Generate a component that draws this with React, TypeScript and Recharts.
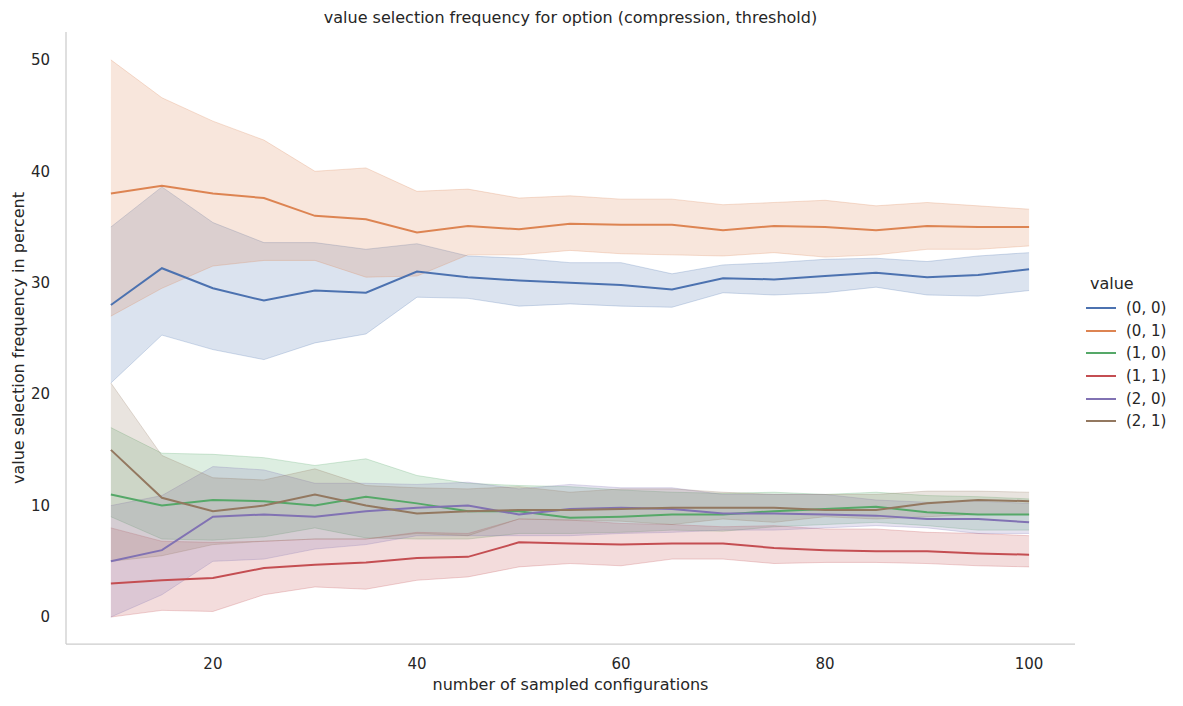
import { ComposedChart, Area, Line, XAxis, YAxis } from 'recharts';

const xs = [10, 15, 20, 25, 30, 35, 40, 45, 50, 55, 60, 65, 70, 75, 80, 85, 90, 95, 100];

const names = ['(0, 0)', '(0, 1)', '(1, 0)', '(1, 1)', '(2, 0)', '(2, 1)'];
const colors = ['#4c72b0', '#dd8452', '#55a868', '#c44e52', '#8172b3', '#937860'];

const mean00 = [28, 31.3, 29.5, 28.4, 29.3, 29.1, 31, 30.5, 30.2, 30, 29.8, 29.4, 30.4, 30.3, 30.6, 30.9, 30.5, 30.7, 31.2];
const lo00 = [21, 25.3, 24, 23.1, 24.6, 25.4, 28.7, 28.6, 27.9, 28.1, 27.9, 27.8, 29.1, 28.9, 29.1, 29.6, 28.9, 28.8, 29.3];
const hi00 = [35, 38.6, 35.4, 33.6, 33.6, 33, 33.5, 32.4, 32.2, 31.8, 31.8, 30.8, 31.6, 31.8, 32.1, 32.2, 31.9, 32.4, 32.7];

const mean01 = [38, 38.7, 38, 37.6, 36, 35.7, 34.5, 35.1, 34.8, 35.3, 35.2, 35.2, 34.7, 35.1, 35, 34.7, 35.1, 35, 35];
const lo01 = [27, 29.5, 31.5, 32, 32, 30.5, 30.6, 32.5, 32.5, 32.9, 32.6, 32.5, 32.4, 32.7, 32.3, 32.5, 33, 33, 33.3];
const hi01 = [50, 46.6, 44.5, 42.8, 40, 40.3, 38.2, 38.4, 37.6, 37.8, 37.5, 37.5, 37, 37.2, 37.4, 36.9, 37.2, 36.9, 36.6];

const mean10 = [11, 10, 10.5, 10.4, 10, 10.8, 10.2, 9.5, 9.5, 8.9, 9, 9.2, 9.2, 9.5, 9.7, 9.9, 9.4, 9.2, 9.2];
const lo10 = [9, 7, 6.9, 7.2, 8, 7.1, 7, 7, 7.5, 7.5, 7.6, 7.8, 7.7, 8.1, 8.3, 8.5, 8.2, 7.8, 7.8];
const hi10 = [17, 14.7, 14.6, 14.3, 13.6, 14.2, 12.7, 12, 11.8, 11.7, 11.4, 11.2, 11.1, 11.2, 11, 11.2, 10.9, 10.8, 10.6];

const mean11 = [3, 3.3, 3.5, 4.4, 4.7, 4.9, 5.3, 5.4, 6.7, 6.6, 6.5, 6.6, 6.6, 6.2, 6, 5.9, 5.9, 5.7, 5.6];
const lo11 = [0, 0.6, 0.5, 2, 2.7, 2.5, 3.3, 3.6, 4.5, 4.8, 4.6, 5.2, 5.2, 4.8, 4.9, 4.9, 4.8, 4.6, 4.5];
const hi11 = [8, 6.8, 6.7, 6.8, 7, 7, 7.6, 7.5, 8.8, 8.7, 8.4, 8.3, 8.1, 8.2, 7.9, 7.9, 7.6, 7.5, 7.3];

const mean20 = [5, 6, 9, 9.2, 9, 9.5, 9.8, 10, 9.2, 9.7, 9.8, 9.7, 9.3, 9.3, 9.2, 9.1, 8.8, 8.8, 8.5];
const lo20 = [0, 2, 5, 5.2, 6.1, 6.5, 7.3, 7.3, 7.3, 7.3, 7.5, 7.6, 7.8, 7.8, 8, 8.2, 8, 7.5, 7.5];
const hi20 = [10, 10.9, 13.5, 13.2, 12, 12, 11.9, 12.1, 11.5, 11.9, 11.6, 11.6, 11, 11, 11, 10.5, 10.3, 10.4, 10.2];

const mean21 = [15, 10.7, 9.5, 10, 11, 10, 9.3, 9.5, 9.6, 9.6, 9.7, 9.8, 9.8, 9.8, 9.6, 9.6, 10.2, 10.5, 10.4];
const lo21 = [5, 5.5, 6.5, 6.8, 7, 7, 7.5, 7.3, 8.8, 8.7, 8.6, 8.3, 8.8, 8.5, 9, 8.8, 9, 9.2, 9.2];
const hi21 = [21, 14.5, 12.5, 12.3, 13.3, 11.8, 11.6, 11.5, 11.7, 11.2, 11.5, 11.5, 11.2, 11, 11, 11, 11.3, 11.3, 11.2];

const xTicks = [20, 40, 60, 80, 100];
const yTicks = [0, 10, 20, 30, 40, 50];

const means = [mean00, mean01, mean10, mean11, mean20, mean21];
const los = [lo00, lo01, lo10, lo11, lo20, lo21];
const his = [hi00, hi01, hi10, hi11, hi20, hi21];

const data = xs.map((x, i) => {
  const row: Record<string, number | number[]> = { x };
  means.forEach((m, s) => {
    row[`m${s}`] = m[i];
    row[`r${s}`] = [los[s][i], his[s][i]];
  });
  return row;
});

const font = '"DejaVu Sans", sans-serif';
const tick = { fill: '#262626', fontSize: 15, fontFamily: font };

export default function App() {
  return (
    <div style={{ position: 'absolute', left: 0, top: 0, width: 1183, height: 706, background: '#fff', fontFamily: font, color: '#262626' }}>
      <div style={{ position: 'absolute', top: 8, left: 66, width: 1009, textAlign: 'center', fontSize: 16 }}>
        value selection frequency for option (compression, threshold)
      </div>
      <div style={{ position: 'absolute', left: 18, top: 338, transform: 'translate(-50%, -50%) rotate(-90deg)', fontSize: 16, whiteSpace: 'nowrap' }}>
        value selection frequency in percent
      </div>
      <div style={{ position: 'absolute', top: 675, left: 66, width: 1009, textAlign: 'center', fontSize: 16 }}>
        number of sampled configurations
      </div>
      <ComposedChart width={1183} height={706} data={data} margin={{ top: 32, right: 108, bottom: 0, left: 6 }}>
        <XAxis
          dataKey="x"
          type="number"
          domain={[5.6, 104.5]}
          ticks={xTicks}
          tick={tick}
          tickLine={false}
          tickMargin={8}
          height={62}
          axisLine={{ stroke: '#cccccc', strokeWidth: 1.25 }}
        />
        <YAxis
          type="number"
          domain={[-2.42, 52.5]}
          ticks={yTicks}
          tick={tick}
          tickLine={false}
          tickMargin={10}
          width={60}
          axisLine={{ stroke: '#cccccc', strokeWidth: 1.25 }}
        />
        {names.map((n, s) => (
          <Area
            key={`r${s}`}
            dataKey={`r${s}`}
            type="linear"
            fill={colors[s]}
            fillOpacity={0.2}
            stroke={colors[s]}
            strokeOpacity={0.25}
            isAnimationActive={false}
          />
        ))}
        {names.map((n, s) => (
          <Line
            key={`m${s}`}
            dataKey={`m${s}`}
            type="linear"
            stroke={colors[s]}
            strokeWidth={2}
            dot={false}
            isAnimationActive={false}
          />
        ))}
      </ComposedChart>
      <div style={{ position: 'absolute', left: 1090, top: 274, fontSize: 16 }}>
        <div style={{ textAlign: 'center', width: 34, marginLeft: 0, marginBottom: 4, paddingLeft: 0 }}>value</div>
        {names.map((n, s) => (
          <div key={n} style={{ display: 'flex', alignItems: 'center', height: 22.6, fontSize: 15 }}>
            <div style={{ width: 30, height: 2, background: colors[s], marginLeft: -4, marginRight: 10 }} />
            {n}
          </div>
        ))}
      </div>
    </div>
  );
}
